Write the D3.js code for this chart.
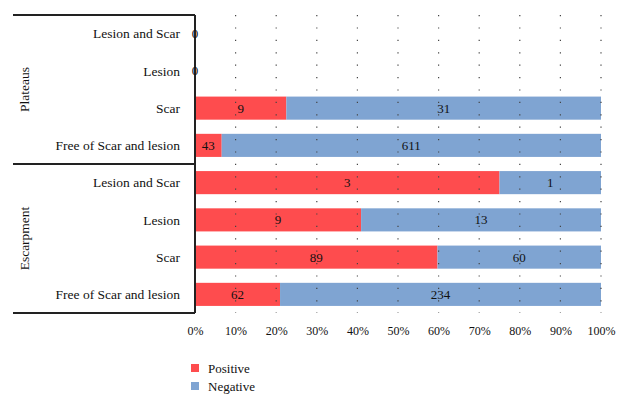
<!DOCTYPE html>
<html><head><meta charset="utf-8">
<script src="https://cdn.jsdelivr.net/npm/d3@7"></script>
<style>body{margin:0;background:#fff;}</style>
</head><body><svg id="c" width="628" height="406"></svg>
<script>
const groups = ["Plateaus", "Escarpment"];
const categories = ["Lesion and Scar", "Lesion", "Scar", "Free of Scar and lesion"];
const positive = [0, 0, 9, 43, 3, 9, 89, 62];
const negative = [0, 0, 31, 611, 1, 13, 60, 234];
const ticks = [0,0.1,0.2,0.3,0.4,0.5,0.6,0.7,0.8,0.9,1];
const seriesNames = ["Positive", "Negative"];
const colors = ["#fe4c4e", "#7fa4d2"];

(function(){
const FONT = '"Liberation Serif", "DejaVu Serif", Tinos, "Times New Roman", serif';
const svg = d3.select("#c").style("font-family", FONT);
const pLeft = 195, pRight = 601, pTop = 15, pBottom = 313, frameLeft = 13;
const rows = [];
groups.forEach((g, gi) => categories.forEach((c, ci) => rows.push({g, c, key: gi*4+ci, i: gi*4+ci})));
const x = d3.scaleLinear().domain([0,1]).range([pLeft, pRight]);
const y = d3.scaleBand().domain(rows.map(r => r.key)).range([pTop, pBottom]).paddingInner(0.38).paddingOuter(0.19);

const txt = (sel) => sel.attr("font-family", FONT).attr("fill", "#111");

rows.forEach(r => {
  const p = positive[r.i], n = negative[r.i], t = p + n;
  if (t === 0) return;
  const segs = [{s:0, e:p/t, c:colors[0]}, {s:p/t, e:1, c:colors[1]}];
  segs.forEach(s => {
    svg.append("rect").attr("x", x(s.s)).attr("y", y(r.key)).attr("width", x(s.e)-x(s.s)).attr("height", y.bandwidth()).attr("fill", s.c);
  });
});

ticks.slice(1).forEach(t => {
  svg.append("line").attr("x1", x(t)).attr("x2", x(t)).attr("y1", pTop).attr("y2", pBottom)
    .attr("stroke", "#444").attr("stroke-width", 1.2).attr("stroke-dasharray", "1.2 11.2");
});

const stroke = "#222";
svg.append("line").attr("x1", frameLeft).attr("x2", pLeft).attr("y1", pTop).attr("y2", pTop).attr("stroke", stroke).attr("stroke-width", 2);
const sep = y(4) - (y.step()*y.paddingInner())/2;
svg.append("line").attr("x1", frameLeft).attr("x2", pLeft).attr("y1", sep).attr("y2", sep).attr("stroke", stroke).attr("stroke-width", 2);
svg.append("line").attr("x1", frameLeft).attr("x2", pLeft).attr("y1", pBottom).attr("y2", pBottom).attr("stroke", stroke).attr("stroke-width", 2);
svg.append("line").attr("x1", pLeft).attr("x2", pLeft).attr("y1", pTop).attr("y2", pBottom).attr("stroke", stroke).attr("stroke-width", 2);

rows.forEach(r => {
  const p = positive[r.i], n = negative[r.i], t = p + n;
  const cy = y(r.key) + y.bandwidth()/2;
  if (t === 0) {
    txt(svg.append("text")).attr("x", x(0)).attr("y", cy).attr("dy","0.35em")
      .attr("text-anchor","middle").attr("font-size",13).text("0");
    return;
  }
  [{v:p, s:0, e:p/t}, {v:n, s:p/t, e:1}].forEach(s => {
    txt(svg.append("text")).attr("x", (x(s.s)+x(s.e))/2).attr("y", cy).attr("dy","0.35em")
      .attr("text-anchor","middle").attr("font-size",13).text(s.v);
  });
});

rows.forEach(r => {
  txt(svg.append("text")).attr("x", 180).attr("y", y(r.key) + y.bandwidth()/2).attr("dy","0.35em")
    .attr("text-anchor","end").attr("font-size",13.5).text(r.c);
});
const gy = [(pTop+sep)/2, (sep+pBottom)/2];
groups.forEach((g, i) => {
  txt(svg.append("text")).attr("transform", `translate(29,${gy[i]}) rotate(-90)`).attr("text-anchor","middle")
    .attr("font-size",13.5).text(g);
});

const ax = svg.append("g").attr("transform", `translate(0,${pBottom})`)
  .call(d3.axisBottom(x).tickValues(ticks).tickFormat(d3.format(".0%")).tickSize(0).tickPadding(13));
ax.select(".domain").remove();
ax.attr("font-family", FONT);
ax.selectAll("text").attr("font-size", 12).attr("font-family", FONT).attr("fill","#111");

seriesNames.forEach((s, i) => {
  const ly = 368 + i*18;
  svg.append("rect").attr("x", 191).attr("y", ly-4).attr("width", 8).attr("height", 8).attr("fill", colors[i]);
  txt(svg.append("text")).attr("x", 208).attr("y", ly).attr("dy","0.35em").attr("font-size",13).text(s);
});
})();
</script></body></html>
